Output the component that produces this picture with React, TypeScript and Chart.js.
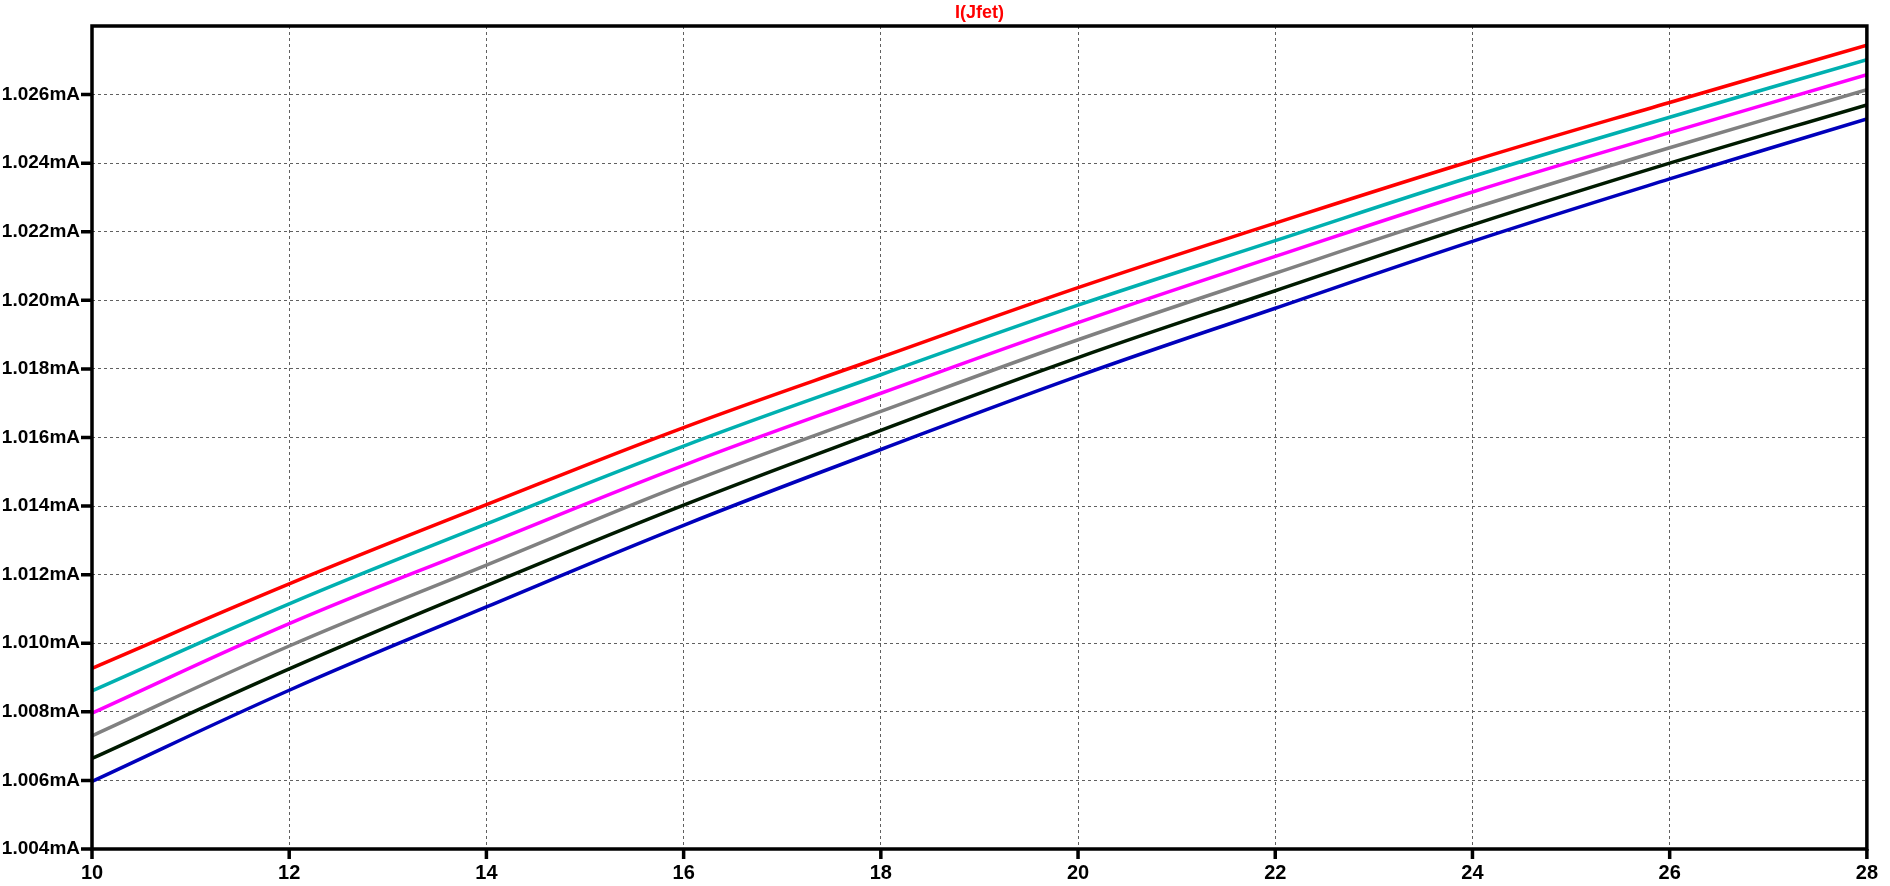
import React, { useEffect, useRef } from "react";
import { Chart, registerables } from "chart.js";

Chart.register(...registerables);

const titleText = "I(Jfet)";
const xValues = [10, 12, 14, 16, 18, 20, 22, 24, 26, 28];
const yTicks = [1.004, 1.006, 1.008, 1.01, 1.012, 1.014, 1.016, 1.018, 1.02, 1.022, 1.024, 1.026];

const seriesRed = [1.00927, 1.01173, 1.01404, 1.01629, 1.01834, 1.02037, 1.02225, 1.02407, 1.02577, 1.02744];
const seriesCyan = [1.00861, 1.01115, 1.01348, 1.01575, 1.01783, 1.01986, 1.02174, 1.02361, 1.02534, 1.02702];
const seriesMagenta = [1.00796, 1.01057, 1.01289, 1.01519, 1.01729, 1.01935, 1.02128, 1.02316, 1.02489, 1.02658];
const seriesGray = [1.0073, 1.00992, 1.01228, 1.01463, 1.01676, 1.01885, 1.02079, 1.02268, 1.02445, 1.02614];
const seriesBlack = [1.00664, 1.00925, 1.01168, 1.01403, 1.01621, 1.01833, 1.02028, 1.0222, 1.024, 1.0257];
const seriesBlue = [1.00597, 1.00863, 1.01106, 1.01344, 1.01565, 1.01779, 1.01977, 1.02172, 1.02354, 1.02529];

const seriesList = [
  { data: seriesRed, color: "#ff0000" },
  { data: seriesCyan, color: "#00b0b0" },
  { data: seriesMagenta, color: "#ff00ff" },
  { data: seriesGray, color: "#808080" },
  { data: seriesBlack, color: "#001a00" },
  { data: seriesBlue, color: "#0000bb" },
];

const FONT = "'Liberation Sans', Arial, sans-serif";

const framePlugin = {
  id: "framePlugin",
  afterDraw(chart: any) {
    const { ctx, chartArea } = chart;
    const { left, right, top, bottom } = chartArea;
    ctx.save();
    ctx.setLineDash([]);
    ctx.strokeStyle = "#000000";
    ctx.lineWidth = 3.5;
    ctx.strokeRect(left, top, right - left, bottom - top);
    const yScale = chart.scales.y;
    const xScale = chart.scales.x;
    ctx.beginPath();
    yScale.ticks.forEach((t: any) => {
      const py = yScale.getPixelForValue(t.value);
      ctx.moveTo(left - 11, py);
      ctx.lineTo(left, py);
    });
    xScale.ticks.forEach((t: any) => {
      const px = xScale.getPixelForValue(t.value);
      ctx.moveTo(px, bottom);
      ctx.lineTo(px, bottom + 10);
    });
    ctx.stroke();
    ctx.fillStyle = "#ff0000";
    ctx.font = `bold 18px ${FONT}`;
    ctx.textAlign = "center";
    ctx.textBaseline = "middle";
    ctx.fillText(titleText, (left + right) / 2, 13);
    ctx.restore();
  },
};

export default function App() {
  const ref = useRef<HTMLCanvasElement | null>(null);
  useEffect(() => {
    document.body.style.margin = "0";
    const canvas = ref.current;
    if (!canvas) return;
    const chart = new Chart(canvas, {
      type: "line",
      data: {
        datasets: seriesList.map((s) => ({
          data: s.data.map((v, i) => ({ x: xValues[i], y: v })),
          borderColor: s.color,
          backgroundColor: s.color,
          borderWidth: 3.5,
          pointRadius: 0,
          tension: 0.4,
          fill: false,
        })),
      },
      options: {
        responsive: false,
        animation: false,
        devicePixelRatio: 1,
        layout: { padding: { top: 26, right: 12, left: 0, bottom: 0 } },
        plugins: {
          legend: { display: false },
          title: { display: false },
          tooltip: { enabled: false },
        },
        scales: {
          x: {
            type: "linear",
            min: 10,
            max: 28,
            afterFit(scale: any) {
              scale.height = 37;
            },
            afterBuildTicks(scale: any) {
              scale.ticks = xValues.map((v) => ({ value: v }));
            },
            grid: {
              color: "#606060",
              lineWidth: 1,
              drawTicks: false,
            },
            border: { display: false, dash: [3, 3] },
            ticks: {
              color: "#000000",
              font: { family: FONT, size: 20, weight: "bold" },
              padding: 12,
              maxRotation: 0,
              callback: (v: any) => String(v),
            },
          },
          y: {
            type: "linear",
            min: 1.004,
            max: 1.028,
            afterFit(scale: any) {
              scale.width = 92;
            },
            afterBuildTicks(scale: any) {
              scale.ticks = yTicks.map((v) => ({ value: v }));
            },
            grid: {
              color: "#606060",
              lineWidth: 1,
              drawTicks: false,
            },
            border: { display: false, dash: [3, 3] },
            ticks: {
              color: "#000000",
              font: { family: FONT, size: 19, weight: "bold" },
              padding: 12,
              callback: (v: any) => Number(v).toFixed(3) + "mA",
            },
          },
        },
      },
      plugins: [framePlugin],
    });
    return () => chart.destroy();
  }, []);
  return (
    <canvas
      ref={ref}
      width={1890}
      height={886}
      style={{ display: "block", width: "1890px", height: "886px" }}
    />
  );
}
